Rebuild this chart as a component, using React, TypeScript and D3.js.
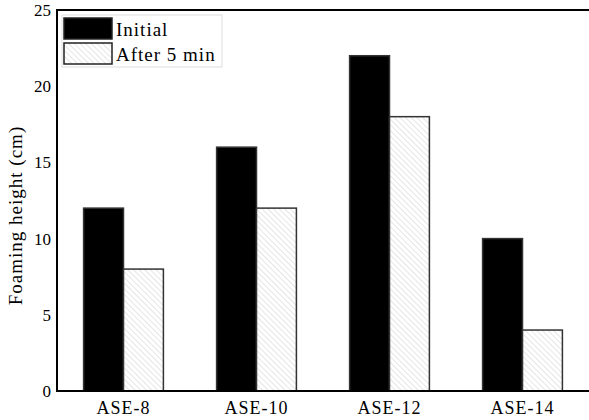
import React, { useRef, useEffect } from "react";
import * as d3 from "d3";

const categories = ["ASE-8", "ASE-10", "ASE-12", "ASE-14"];
const initialHeight = [12, 16, 22, 10];
const after5Height = [8, 12, 18, 4];
const seriesNames = ["Initial", "After 5 min"];
const yTicks = [0, 5, 10, 15, 20, 25];

const App = () => {
  const chartRef = useRef<SVGSVGElement>(null);

  useEffect(() => {
    if (!chartRef.current) return;
    const width = 589;
    const height = 420;
    const margin = { top: 10, right: 0, bottom: 29, left: 57 };
    const font = '"Liberation Serif", "Times New Roman", serif';

    const svg = d3.select(chartRef.current);
    svg.selectAll("*").remove();

    const defs = svg.append("defs");
    const pat = defs
      .append("pattern")
      .attr("id", "hatch")
      .attr("patternUnits", "userSpaceOnUse")
      .attr("width", 4)
      .attr("height", 4)
      .attr("patternTransform", "rotate(-45)");
    pat.append("rect").attr("width", 4).attr("height", 4).attr("fill", "#fff");
    pat
      .append("line")
      .attr("x1", 0)
      .attr("y1", 0)
      .attr("x2", 0)
      .attr("y2", 4)
      .attr("stroke", "#cccccc")
      .attr("stroke-width", 1);

    const x = d3
      .scaleBand()
      .domain(categories)
      .range([margin.left, width - margin.right])
      .paddingInner(0.4)
      .paddingOuter(0.2);
    const inner = d3
      .scaleBand()
      .domain(seriesNames)
      .range([0, x.bandwidth()]);
    const y = d3
      .scaleLinear()
      .domain([0, 25])
      .range([height - margin.bottom, margin.top]);

    const data = categories.map((c, i) => ({
      cat: c,
      vals: [initialHeight[i], after5Height[i]],
    }));

    const g = svg
      .selectAll(".grp")
      .data(data)
      .enter()
      .append("g")
      .attr("transform", (d) => `translate(${x(d.cat)},0)`);
    g.selectAll("rect")
      .data((d) => d.vals.map((v, k) => ({ v, s: seriesNames[k], k })))
      .enter()
      .append("rect")
      .attr("x", (d) => inner(d.s)!)
      .attr("y", (d) => y(d.v))
      .attr("width", inner.bandwidth())
      .attr("height", (d) => y(0) - y(d.v))
      .attr("fill", (d) => (d.k === 0 ? "#000" : "url(#hatch)"))
      .attr("stroke", "#333")
      .attr("stroke-width", 1.5);

    // frame: left, top, bottom
    svg
      .append("path")
      .attr(
        "d",
        `M${width},${margin.top}H${margin.left}V${height - margin.bottom}H${width}`
      )
      .attr("fill", "none")
      .attr("stroke", "#000")
      .attr("stroke-width", 2);

    svg
      .selectAll(".ytick")
      .data(yTicks)
      .enter()
      .append("text")
      .attr("x", margin.left - 6)
      .attr("y", (d) => y(d))
      .attr("dy", "0.35em")
      .attr("text-anchor", "end")
      .style("font-family", font)
      .style("font-size", "17px")
      .text((d) => d);

    svg
      .selectAll(".xlab")
      .data(categories)
      .enter()
      .append("text")
      .attr("x", (d) => x(d)! + x.bandwidth() / 2)
      .attr("y", height - margin.bottom + 23)
      .attr("text-anchor", "middle")
      .style("font-family", font)
      .style("font-size", "18px")
      .style("letter-spacing", "1px")
      .text((d) => d);

    svg
      .append("text")
      .attr("transform", `translate(22,${(margin.top + height - margin.bottom) / 2 + 15}) rotate(-90)`)
      .attr("text-anchor", "middle")
      .style("font-family", font)
      .style("font-size", "19px")
      .style("letter-spacing", "1px")
      .text("Foaming height (cm)");

    // legend
    const lg = svg.append("g").attr("transform", "translate(62,15)");
    lg.append("rect")
      .attr("width", 160)
      .attr("height", 52)
      .attr("fill", "#fff")
      .attr("stroke", "#ddd")
      .attr("stroke-width", 1);
    seriesNames.forEach((s, k) => {
      lg.append("rect")
        .attr("x", 2)
        .attr("y", 3 + k * 25)
        .attr("width", 48)
        .attr("height", 21)
        .attr("fill", k === 0 ? "#000" : "url(#hatch)")
        .attr("stroke", "#222")
        .attr("stroke-width", 1.5);
      lg.append("text")
        .attr("x", 54)
        .attr("y", 14 + k * 25)
        .attr("dy", "0.35em")
        .style("font-family", font)
        .style("font-size", "19px")
        .style("letter-spacing", "1px")
        .text(s);
    });
  }, []);

  return (
    <svg
      ref={chartRef}
      width={589}
      height={420}
      style={{ position: "absolute", left: 0, top: 0, background: "#fff" }}
    />
  );
};

export default App;
